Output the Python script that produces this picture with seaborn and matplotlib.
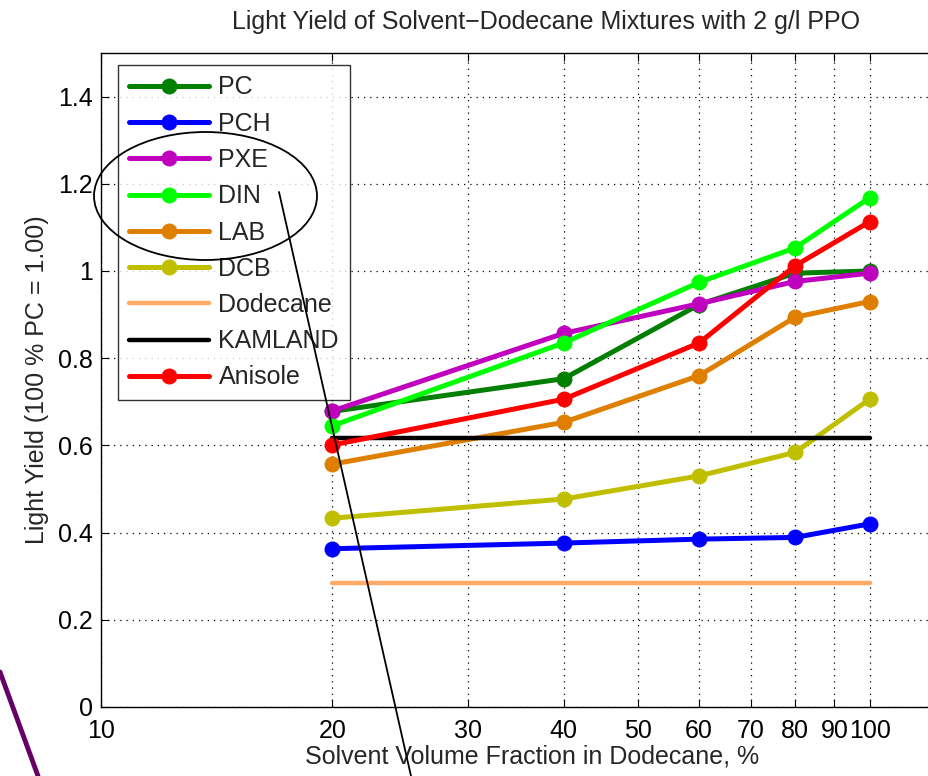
import matplotlib
matplotlib.use("Agg")
import matplotlib.pyplot as plt
from matplotlib.lines import Line2D
from matplotlib.patches import Ellipse
from matplotlib.ticker import FixedLocator, FixedFormatter, NullLocator
import seaborn as sns
import pandas as pd

# Solvent volume fraction in dodecane (%)
fraction = [20, 40, 60, 80, 100]

# Light yield relative to 100 % PC
pc = [0.678, 0.753, 0.923, 0.995, 1.000]
pch = [0.363, 0.376, 0.385, 0.389, 0.420]
pxe = [0.679, 0.857, 0.925, 0.976, 0.995]
din = [0.645, 0.835, 0.974, 1.053, 1.168]
lab = [0.557, 0.653, 0.760, 0.894, 0.930]
dcb = [0.433, 0.477, 0.530, 0.584, 0.706]
anisole = [0.601, 0.706, 0.835, 1.012, 1.113]

# Reference levels (constant over the range)
ref_range = [20, 100]
dodecane = [0.284, 0.284]
kamland = [0.618, 0.618]

x_ticks = [10, 20, 30, 40, 50, 60, 70, 80, 90, 100]
x_tick_labels = ["10", "20", "30", "40", "50", "60", "70", "80", "90", "100"]
y_ticks = [0, 0.2, 0.4, 0.6, 0.8, 1.0, 1.2, 1.4]
y_tick_labels = ["0", "0.2", "0.4", "0.6", "0.8", "1", "1.2", "1.4"]

series = [
    ("PC", fraction, pc, "#007F00", True),
    ("PCH", fraction, pch, "#0000FF", True),
    ("PXE", fraction, pxe, "#BF00BF", True),
    ("DIN", fraction, din, "#00FF00", True),
    ("LAB", fraction, lab, "#DF7F00", True),
    ("DCB", fraction, dcb, "#BFBF00", True),
    ("Dodecane", ref_range, dodecane, "#FFAA66", False),
    ("KAMLAND", ref_range, kamland, "#000000", False),
    ("Anisole", fraction, anisole, "#FF0000", True),
]

FS = 18

sns.set_style("white")
plt.rcParams["font.family"] = ["Liberation Sans", "DejaVu Sans"]
plt.rcParams["font.size"] = FS

fig = plt.figure(figsize=(9.29, 7.76), dpi=100)
ax = fig.add_axes([101 / 929, 1 - 707 / 776, (989 - 101) / 929, (707 - 53) / 776])

for name, xs, ys, color, has_marker in series:
    df = pd.DataFrame({"x": xs, "y": ys})
    sns.lineplot(
        data=df, x="x", y="y", ax=ax, color=color, label=name,
        linewidth=3.6 if has_marker else 3.2,
        marker="o" if has_marker else None,
        markersize=11.5, markeredgewidth=0,
        estimator=None, sort=False,
    )

ax.set_xscale("log")
ax.set_xlim(10, 143)
ax.set_ylim(0, 1.5)
ax.xaxis.set_major_locator(FixedLocator(x_ticks))
ax.xaxis.set_major_formatter(FixedFormatter(x_tick_labels))
ax.xaxis.set_minor_locator(NullLocator())
ax.yaxis.set_major_locator(FixedLocator(y_ticks))
ax.yaxis.set_major_formatter(FixedFormatter(y_tick_labels))

ax.grid(True, color="black", linestyle=(0, (1, 4)), linewidth=0.9)
ax.tick_params(axis="both", direction="in", length=6, width=0.8,
               labelsize=FS, colors="black", top=True, right=True, left=True, bottom=True)
ax.tick_params(axis="x", pad=9)
ax.tick_params(axis="y", pad=6)
for side in ["left", "bottom", "top", "right"]:
    ax.spines[side].set_color("black")
    ax.spines[side].set_linewidth(1.0)

ax.set_xlabel("Solvent Volume Fraction in Dodecane, %", fontsize=FS)
ax.xaxis.set_label_coords((532 - 101) / 888, -0.058, transform=ax.transAxes)
ax.xaxis.label.set_va("top")
ax.set_ylabel("Light Yield (100 % PC = 1.00)", fontsize=FS, labelpad=6)
fig.text(546 / 929, 1 - 22 / 776, "Light Yield of Solvent\u2212Dodecane Mixtures with 2 g/l PPO",
         ha="center", va="center", fontsize=FS)

leg = ax.legend(loc="upper left", bbox_to_anchor=((118 - 101) / 888, (707 - 65) / 654),
                frameon=True, fancybox=False, edgecolor="black", fontsize=FS,
                handlelength=3.2, handletextpad=0.4, labelspacing=0.49,
                borderpad=0.42, borderaxespad=0)
leg.get_frame().set_linewidth(1.0)

# Highlight ring around the legend entries and a pointer line
ring = Ellipse((205.5 / 100, (776 - 196) / 100), 223 / 100, 128 / 100,
               transform=fig.dpi_scale_trans, fill=False, edgecolor="black", linewidth=1.3)
fig.add_artist(ring)
fig.add_artist(Line2D([279 / 100, 411 / 100], [(776 - 192) / 100, 0],
                      transform=fig.dpi_scale_trans, color="black", linewidth=1.3))
fig.add_artist(Line2D([0, 38 / 100], [(776 - 672) / 100, 0],
                      transform=fig.dpi_scale_trans, color="#660066", linewidth=3.5))

fig.savefig("out.png", dpi=100)
